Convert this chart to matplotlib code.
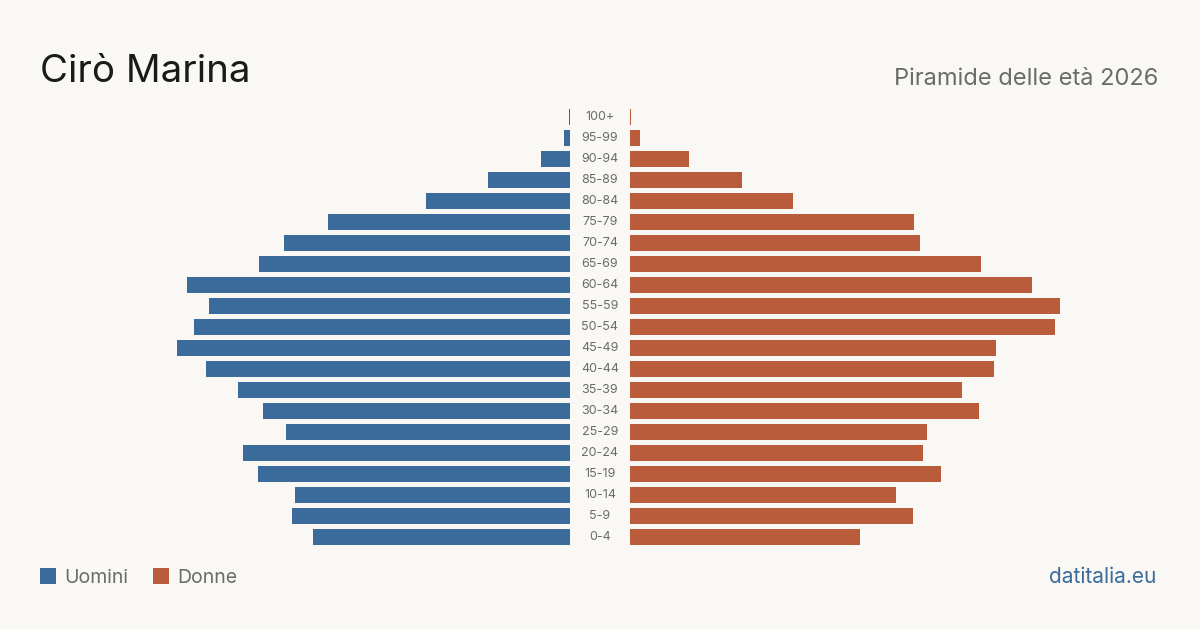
import matplotlib
matplotlib.use("Agg")
import matplotlib.pyplot as plt
import matplotlib.patches as patches

# ----------
# Data (age groups, youngest first)
ages = ['0-4', '5-9', '10-14', '15-19', '20-24', '25-29', '30-34', '35-39',
        '40-44', '45-49', '50-54', '55-59', '60-64', '65-69', '70-74',
        '75-79', '80-84', '85-89', '90-94', '95-99', '100+']
men = [257, 278, 275, 312, 327, 284, 307, 332, 364, 393, 376, 361, 383,
       311, 286, 242, 144, 82, 29, 6, 1]
women = [230, 283, 266, 311, 293, 297, 349, 332, 364, 366, 425, 430, 402,
         351, 290, 284, 163, 112, 59, 10, 1]

title = "Cirò Marina"
subtitle = "Piramide delle età 2026"
source = "datitalia.eu"

# ----------
bg = '#f9f8f4'
blue = '#3b6b9b'
orange = '#b85c3c'
grey = '#6b6b6b'

plt.rcParams['font.family'] = ['Inter', 'DejaVu Sans']

fig = plt.figure(figsize=(12, 6.3), dpi=100, facecolor=bg)

W, H = 1200., 630.
ymin, ymax = -0.5, len(ages) - 0.5
bottom = (H - 547.5) / H
height = 441. / H

axl = fig.add_axes([0, bottom, 570 / W, height])
axr = fig.add_axes([630 / W, bottom, 570 / W, height])

ypos = range(len(ages))
axl.barh(ypos, men, height=0.8, color=blue, lw=0)
axr.barh(ypos, women, height=0.8, color=orange, lw=0)

axl.set_xlim(570, 0)
axr.set_xlim(0, 570)
for ax in (axl, axr):
    ax.set_ylim(ymin, ymax)
    ax.axis('off')

# Age labels in the middle column
for i, label in enumerate(ages):
    y = bottom + height * (i - ymin) / (ymax - ymin)
    fig.text(600 / W, y, label, ha='center', va='center',
             fontsize=9, color=grey)

# Titles
fig.text(40 / W, 1 - 82 / H, title, fontsize=27.7, color='#1a1a1a',
         ha='left', va='baseline')
fig.text(1158 / W, 1 - 85 / H, subtitle, fontsize=17, color=grey,
         ha='right', va='baseline')

# Legend
for x0, col, lab in [(40, blue, 'Uomini'), (153, orange, 'Donne')]:
    fig.patches.append(patches.Rectangle(
        (x0 / W, 1 - 584 / H), 16 / W, 16 / H, transform=fig.transFigure,
        facecolor=col, lw=0))
    fig.text((x0 + 24) / W, 1 - 583 / H, lab, fontsize=14, color=grey,
             ha='left', va='baseline')

fig.text(1156 / W, 1 - 583 / H, source, fontsize=15, color=blue,
         ha='right', va='baseline')

plt.savefig('out.png', facecolor=bg, dpi=100)
